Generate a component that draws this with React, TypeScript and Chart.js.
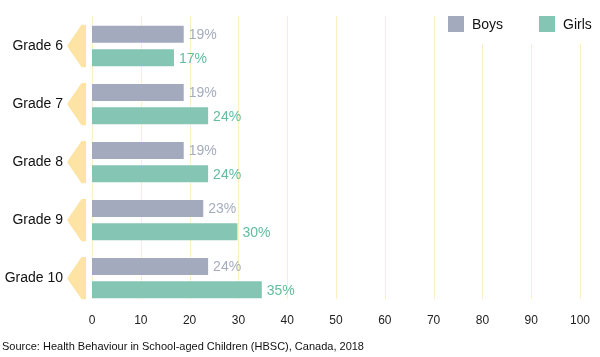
import React, { useEffect, useRef } from "react";
import { Chart, registerables } from "chart.js";

Chart.register(...registerables);

const categories = ["Grade 6", "Grade 7", "Grade 8", "Grade 9", "Grade 10"];
const boys = [19, 19, 19, 23, 24];
const girls = [17, 24, 24, 30, 35];
const seriesNames = ["Boys", "Girls"];
const barColors = ["#a3aabd", "#85c5b3"];
const labelColors = ["#a6acbf", "#62bc9f"];
const xTicks = [0, 10, 20, 30, 40, 50, 60, 70, 80, 90, 100];
const sourceText = "Source: Health Behaviour in School-aged Children (HBSC), Canada, 2018";

const FONT = "'Liberation Sans', Arial, Helvetica, sans-serif";

const gridPlugin = {
  id: "customGrid",
  beforeDatasetsDraw(chart: any) {
    const { ctx, chartArea, scales } = chart;
    const xs = scales.x;
    const metaLast = chart.getDatasetMeta(1);
    const lastBar = metaLast.data[metaLast.data.length - 1];
    const bottom = lastBar ? lastBar.y + lastBar.height / 2 : chartArea.bottom;
    const top = chartArea.top - 1;
    ctx.save();
    ctx.strokeStyle = "#fcefc6";
    ctx.lineWidth = 1;
    xTicks.forEach((t) => {
      const x = Math.round(xs.getPixelForValue(t)) + 0.5;
      ctx.beginPath();
      ctx.moveTo(x, top);
      ctx.lineTo(x, bottom);
      ctx.stroke();
    });
    // arrows
    const m0 = chart.getDatasetMeta(0);
    const m1 = chart.getDatasetMeta(1);
    const left = chartArea.left;
    ctx.fillStyle = "#fde4a5";
    categories.forEach((_, i) => {
      const b = m0.data[i];
      const g = m1.data[i];
      if (!b || !g) return;
      const t = b.y - b.height / 2;
      const bt = g.y + g.height / 2;
      const mid = (t + bt) / 2;
      ctx.beginPath();
      ctx.moveTo(left - 6, t);
      ctx.lineTo(left - 6, bt);
      ctx.lineTo(left - 10.5, bt);
      ctx.lineTo(left - 25, mid);
      ctx.lineTo(left - 10.5, t);
      ctx.closePath();
      ctx.fill();
    });
    ctx.restore();
  },
};

const labelPlugin = {
  id: "valueLabels",
  afterDatasetsDraw(chart: any) {
    const { ctx } = chart;
    ctx.save();
    ctx.font = `14px ${FONT}`;
    ctx.textAlign = "left";
    ctx.textBaseline = "middle";
    chart.data.datasets.forEach((ds: any, di: number) => {
      const meta = chart.getDatasetMeta(di);
      ctx.fillStyle = labelColors[di];
      meta.data.forEach((el: any, i: number) => {
        ctx.fillText(`${ds.data[i]}%`, el.x + 4, el.y + 1);
      });
    });
    ctx.restore();
  },
};

const legendPlugin = {
  id: "customLegend",
  afterDraw(chart: any) {
    const { ctx, width } = chart;
    ctx.save();
    ctx.fillStyle = "#ffffff";
    ctx.fillRect(width - 160, 0, 160, 44);
    ctx.font = `14px ${FONT}`;
    ctx.textBaseline = "middle";
    ctx.textAlign = "left";
    const items = [
      { x: width - 152, label: seriesNames[0], color: barColors[0] },
      { x: width - 61, label: seriesNames[1], color: barColors[1] },
    ];
    items.forEach((it) => {
      ctx.fillStyle = it.color;
      ctx.fillRect(it.x, 16, 16, 16);
      ctx.fillStyle = "#111111";
      ctx.fillText(it.label, it.x + 24, 25);
    });
    ctx.restore();
  },
};

export default function App() {
  const ref = useRef<HTMLCanvasElement>(null);
  useEffect(() => {
    document.body.style.margin = "0";
    if (!ref.current) return;
    const chart = new Chart(ref.current, {
      type: "bar",
      data: {
        labels: categories,
        datasets: [
          {
            label: seriesNames[0],
            data: boys,
            backgroundColor: barColors[0],
            borderColor: "rgba(255,255,255,0.5)",
            borderWidth: 1,
            categoryPercentage: 0.803,
            barPercentage: 0.815,
          },
          {
            label: seriesNames[1],
            data: girls,
            backgroundColor: barColors[1],
            borderColor: "rgba(255,255,255,0.5)",
            borderWidth: 1,
            categoryPercentage: 0.803,
            barPercentage: 0.815,
          },
        ],
      },
      options: {
        indexAxis: "y",
        responsive: false,
        animation: false,
        layout: { padding: { left: 2, right: 20, top: 17, bottom: 0 } },
        plugins: {
          legend: { display: false },
          tooltip: { enabled: false },
          title: {
            display: true,
            text: sourceText,
            position: "bottom",
            align: "start",
            color: "#111111",
            font: { family: FONT, size: 11, weight: "normal", lineHeight: 1.2 },
            padding: { top: 3.6, bottom: 3 },
          },
        },
        scales: {
          x: {
            type: "linear",
            min: 0,
            max: 100,
            afterBuildTicks(scale: any) {
              scale.ticks = xTicks.map((v) => ({ value: v }));
            },
            afterFit(scale: any) {
              scale.height = 30;
            },
            grid: { display: false, drawTicks: false },
            border: { display: false },
            ticks: {
              padding: 6,
              color: "#222222",
              font: { family: FONT, size: 12 },
              maxRotation: 0,
            },
          },
          y: {
            type: "category",
            afterFit(scale: any) {
              scale.width = 90;
            },
            grid: {
              display: true,
              color: "rgba(0,0,0,0)",
              drawOnChartArea: false,
              drawTicks: true,
              tickLength: 29,
            },
            border: { display: false },
            ticks: {
              padding: 0,
              color: "#111111",
              font: { family: FONT, size: 14 },
            },
          },
        },
      },
      plugins: [gridPlugin, labelPlugin, legendPlugin],
    } as any);
    return () => chart.destroy();
  }, []);
  return <canvas ref={ref} width={600} height={357} style={{ display: "block" }} />;
}
